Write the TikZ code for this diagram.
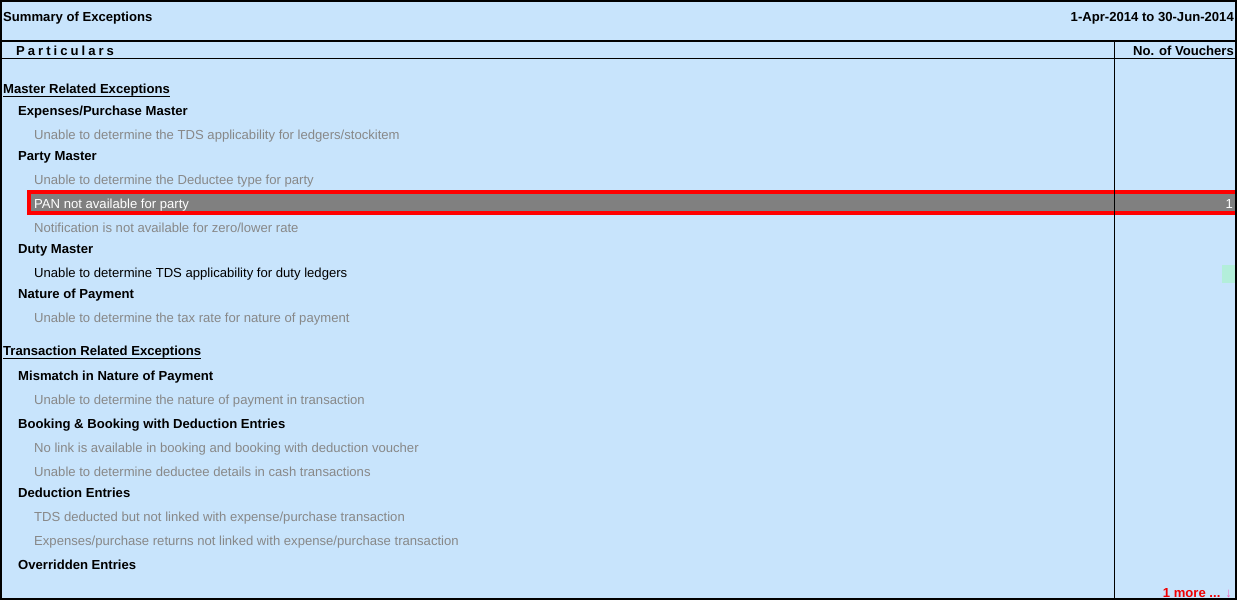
\documentclass[tikz,border=0pt]{standalone}
\usepackage{fontspec}
\setmainfont{Liberation Sans}
\usetikzlibrary{positioning}
\definecolor{panelblue}{RGB}{200,228,252}
\definecolor{itemgray}{RGB}{136,136,136}
\definecolor{rowgray}{RGB}{128,128,128}
\definecolor{markgreen}{RGB}{179,238,218}
\definecolor{morered}{RGB}{240,0,0}
\tikzset{
  txt/.style={anchor=base west,inner sep=0pt,font=\fontsize{13.1}{15}\selectfont},
  heading/.style={txt,font=\bfseries\fontsize{13.1}{15}\selectfont},
  item/.style={txt,text=itemgray},
  rightnum/.style={txt,anchor=base east},
  underline/.style={line width=1pt},
  frame/.style={line width=2pt},
  hilite/.style={draw=red,line width=4pt,fill=rowgray}
}

\begin{document}
\begin{tikzpicture}[x=1pt,y=-1pt]
  \useasboundingbox (0,0) rectangle (1237,600);
  % panel
  \fill[panelblue] (0,0) rectangle (1237,600);
  % highlighted row
  \draw[hilite] (29,192) rectangle (1237,213);
  \fill[markgreen] (1222,265) rectangle (1235,283);
  % rules
  \draw[frame] (0,41) -- (1237,41);
  \draw (0,58.5) -- (1237,58.5);
  \draw[line width=1.5pt] (1114.5,41) -- (1114.5,600);
  \draw[frame] (1,1) rectangle (1236,599);
  % title bar
  \node[heading] (title) at (3,21.5) {Summary of Exceptions};
  \node[heading,anchor=base east] (period) at (1234,21.5) {1-Apr-2014 to 30-Jun-2014};
  \node[heading] (particulars) at (16,55.5)
    {P\kern3pt a\kern3pt r\kern3pt t\kern3pt i\kern3pt c\kern3pt u\kern3pt l\kern3pt a\kern3pt r\kern3pt s};
  \node[heading,anchor=base east] (vouchers) at (1234,55.5) {No. of Vouchers};
  % master related
  \node[heading] (masterhead) at (3,93.5) {Master Related Exceptions};
  \draw[underline] ([yshift=-3pt]masterhead.base west) -- ([yshift=-3pt]masterhead.base east);
  \node[heading] (expmaster) at (18,115.5) {Expenses/Purchase Master};
  \node[item] (expitem) at (34,139.5) {Unable to determine the TDS applicability for ledgers/stockitem};
  \node[heading] (partymaster) at (18,160.5) {Party Master};
  \node[item] (partytype) at (34,184.5) {Unable to determine the Deductee type for party};
  \node[txt,text=white] (panrow) at (34,208) {PAN not available for party};
  \node[rightnum,text=white] (pancount) at (1233,208) {1};
  \node[item] (notifrow) at (34,232.5) {Notification is not available for zero/lower rate};
  \node[heading] (dutymaster) at (18,253.5) {Duty Master};
  \node[txt] (dutyitem) at (34,277.5) {Unable to determine TDS applicability for duty ledgers};
  \node[heading] (naturemaster) at (18,298.5) {Nature of Payment};
  \node[item] (natureitem) at (34,322.5) {Unable to determine the tax rate for nature of payment};
  % transaction related
  \node[heading] (transhead) at (3,355.5) {Transaction Related Exceptions};
  \draw[underline] ([yshift=-3pt]transhead.base west) -- ([yshift=-3pt]transhead.base east);
  \node[heading] (mismatch) at (18,380.5) {Mismatch in Nature of Payment};
  \node[item] (mismatchitem) at (34,404.5) {Unable to determine the nature of payment in transaction};
  \node[heading] (booking) at (18,428.5) {Booking \& Booking with Deduction Entries};
  \node[item] (bookinglink) at (34,452.5) {No link is available in booking and booking with deduction voucher};
  \node[item] (bookingcash) at (34,476.5) {Unable to determine deductee details in cash transactions};
  \node[heading] (deduction) at (18,497.5) {Deduction Entries};
  \node[item] (deductlinked) at (34,521.5) {TDS deducted but not linked with expense/purchase transaction};
  \node[item] (deductreturns) at (34,545.5) {Expenses/purchase returns not linked with expense/purchase transaction};
  \node[heading] (overridden) at (18,569.5) {Overridden Entries};
  % more marker
  \node[heading,anchor=base east,text=morered] (more) at (1232,597) {1 more ... {\mdseries\color{magenta!60}↓}};
\end{tikzpicture}
\end{document}
